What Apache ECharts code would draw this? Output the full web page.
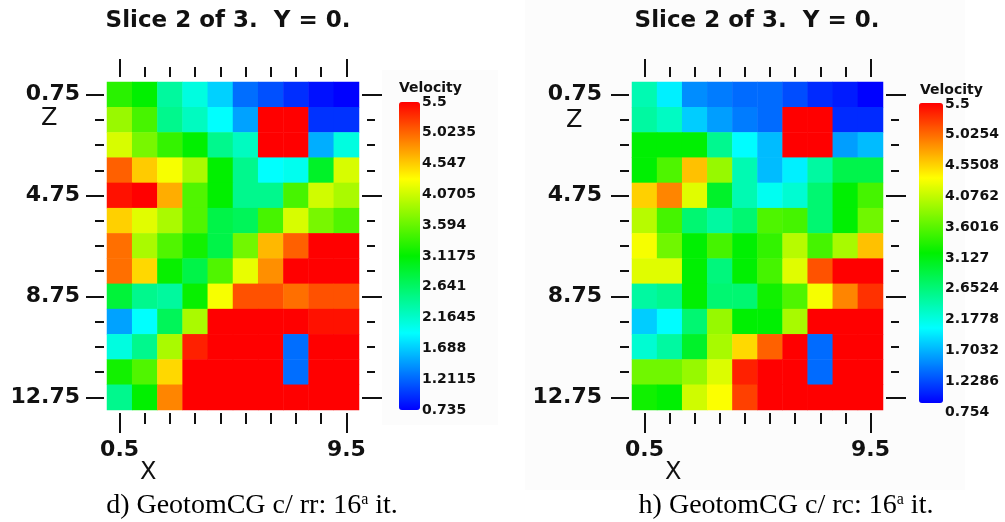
<!DOCTYPE html>
<html>
<head>
<meta charset="utf-8">
<style>
  html, body { margin: 0; padding: 0; background: #ffffff; }
  #chart { width: 1005px; height: 522px; }
</style>
<script src="https://cdn.jsdelivr.net/npm/echarts@6/dist/echarts.min.js"></script>
</head>
<body>
<div id="chart"></div>
<script>
// Grid coordinates of the velocity slice (cell centres)
const xCats = ['0.5', '1.5', '2.5', '3.5', '4.5', '5.5', '6.5', '7.5', '8.5', '9.5'];
const zCats = ['0.75', '1.75', '2.75', '3.75', '4.75', '5.75', '6.75',
               '7.75', '8.75', '9.75', '10.75', '11.75', '12.75'];

// Velocity model, inversion with rr: one row per Z level, top to bottom
const velRR = [
  [3.31, 3.12, 2.38, 2.07, 1.71, 1.25, 1.11, 0.95, 0.81, 0.74],
  [3.83, 3.45, 2.46, 2.22, 1.93, 1.49, 5.50, 5.50, 0.97, 0.97],
  [4.12, 3.68, 3.36, 3.12, 2.46, 2.22, 5.50, 5.50, 1.55, 2.07],
  [5.05, 4.55, 4.27, 3.91, 3.12, 2.46, 1.93, 2.00, 2.93, 4.12],
  [5.42, 5.50, 4.69, 3.49, 3.12, 2.46, 2.46, 3.45, 4.09, 3.91],
  [4.53, 4.17, 3.91, 3.49, 2.78, 2.70, 3.45, 4.12, 3.68, 3.49],
  [4.98, 3.91, 3.49, 3.20, 2.78, 3.65, 4.64, 5.05, 5.50, 5.50],
  [4.98, 4.49, 3.15, 2.78, 3.49, 4.20, 4.83, 5.50, 5.50, 5.50],
  [2.85, 2.46, 2.38, 3.15, 4.27, 5.12, 5.12, 4.98, 5.12, 5.12],
  [1.49, 1.93, 2.70, 3.91, 5.50, 5.50, 5.50, 5.50, 5.42, 5.42],
  [2.07, 2.46, 3.91, 5.35, 5.50, 5.50, 5.50, 1.25, 5.50, 5.50],
  [3.20, 3.49, 4.49, 5.50, 5.50, 5.50, 5.50, 1.25, 5.50, 5.50],
  [2.46, 3.12, 4.88, 5.50, 5.50, 5.50, 5.50, 5.50, 5.50, 5.50]
];

// Velocity model, inversion with rc
const velRC = [
  [2.30, 1.87, 1.41, 1.33, 1.25, 1.25, 1.11, 0.95, 0.88, 0.76],
  [2.38, 2.22, 1.71, 1.49, 1.33, 1.25, 5.50, 5.50, 0.95, 0.95],
  [3.12, 3.12, 3.12, 2.46, 1.93, 1.63, 5.50, 5.50, 1.49, 1.63],
  [3.12, 3.49, 4.60, 3.83, 2.30, 1.63, 1.87, 2.38, 2.78, 2.78],
  [4.53, 4.88, 4.17, 2.93, 2.30, 2.00, 2.15, 2.60, 3.12, 3.45],
  [3.98, 3.45, 2.60, 2.38, 2.60, 3.49, 3.45, 2.60, 3.12, 3.65],
  [4.27, 3.65, 3.12, 3.45, 3.12, 3.36, 3.98, 3.45, 3.91, 4.60],
  [4.17, 4.17, 3.12, 2.55, 3.12, 3.45, 4.17, 5.12, 5.50, 5.50],
  [2.38, 2.46, 3.12, 2.60, 2.60, 3.20, 3.49, 4.27, 4.88, 5.27],
  [1.71, 1.93, 2.60, 3.83, 3.12, 3.12, 3.91, 5.50, 5.50, 5.50],
  [2.15, 2.38, 2.93, 3.91, 4.49, 5.05, 5.50, 1.25, 5.50, 5.50],
  [3.65, 3.65, 3.83, 4.15, 5.35, 5.50, 5.50, 1.25, 5.50, 5.50],
  [3.20, 3.12, 4.09, 4.30, 5.20, 5.50, 5.50, 5.50, 5.50, 5.50]
];

// Colour-bar tick labels, bottom to top
const ticksRR = ['0.735', '1.2115', '1.688', '2.1645', '2.641', '3.1175',
                 '3.594', '4.0705', '4.547', '5.0235', '5.5'];
const ticksRC = ['0.754', '1.2286', '1.7032', '2.1778', '2.6524', '3.127',
                 '3.6016', '4.0762', '4.5508', '5.0254', '5.5'];

const titleText = 'Slice 2 of 3.  Y = 0.';
const captions = ['d) GeotomCG c/ rr: 16{s|a} it.', 'h) GeotomCG c/ rc: 16{s|a} it.'];

const jet = ['#0000ff', '#00ffff', '#00f000', '#ffff00', '#ff0000'];
const INK = '#111111';
const BOLD = 'DejaVu Sans';

function toCells(rows) {
  const out = [];
  rows.forEach((row, zi) => row.forEach((v, xi) => out.push([xi, zi, v])));
  return out;
}

const lastX = xCats.length - 1;
const isMajorX = (i) => i === 0 || i === lastX;
const isMajorZ = (i) => i % 4 === 0;

function xAxisDef(grid, pos, offset, len, major, showLabel) {
  return {
    type: 'category', gridIndex: grid, data: xCats, position: pos, offset: offset,
    axisLine: { show: false },
    splitLine: { show: false },
    axisTick: {
      show: true, alignWithLabel: true, length: len,
      interval: major ? (i) => isMajorX(i) : 0,
      lineStyle: { color: INK, width: 2 }
    },
    axisLabel: {
      show: showLabel, interval: (i) => isMajorX(i), margin: 26,
      fontFamily: BOLD, fontWeight: 'bold', fontSize: 22, color: INK
    }
  };
}

function yAxisDef(grid, pos, offset, len, major, showLabel, margin) {
  return {
    type: 'category', gridIndex: grid, data: zCats, inverse: true, position: pos, offset: offset,
    axisLine: { show: false },
    splitLine: { show: false },
    axisTick: {
      show: true, alignWithLabel: true, length: len,
      interval: major ? (i) => isMajorZ(i) : 0,
      lineStyle: { color: INK, width: 2 }
    },
    axisLabel: {
      show: showLabel, interval: (i) => isMajorZ(i), margin: margin || 24,
      fontFamily: BOLD, fontWeight: 'bold', fontSize: 22, color: INK
    }
  };
}

const panels = [
  { left: 107, width: 252, labelMargin: 24, bar: { left: 399, top: 102, w: 21, h: 308 }, ticksTop: 102, ticksH: 308 },
  { left: 632, width: 251, labelMargin: 27, bar: { left: 919, top: 103, w: 24, h: 300 }, ticksTop: 104, ticksH: 308 }
];
const heatTop = 82, heatH = 328;

const grids = [], xAxes = [], yAxes = [];
panels.forEach((p, k) => {
  grids.push({ left: p.left, top: heatTop, width: p.width, height: heatH, outerBoundsMode: 'none' });
  // bottom: short ticks, then long ticks with labels
  xAxes.push(xAxisDef(k, 'bottom', 3, 11, false, false));
  xAxes.push(xAxisDef(k, 'bottom', 3, 20, true, true));
  // top
  xAxes.push(xAxisDef(k, 'top', 5, 10, false, false));
  xAxes.push(xAxisDef(k, 'top', 5, 18, true, false));
  // left
  yAxes.push(yAxisDef(k, 'left', 3, 9, false, false));
  yAxes.push(yAxisDef(k, 'left', 3, 18, true, true, p.labelMargin));
  // right
  yAxes.push(yAxisDef(k, 'right', 8, 8, false, false));
  yAxes.push(yAxisDef(k, 'right', 3, 20, true, false));
});

// colour-bar label axes
[ticksRR, ticksRC].forEach((ticks, k) => {
  const p = panels[k];
  grids.push({ left: p.bar.left, top: p.ticksTop, width: p.bar.w, height: p.ticksH, outerBoundsMode: 'none' });
  xAxes.push({ type: 'category', gridIndex: 2 + k, show: false, data: [''] });
  yAxes.push({
    type: 'category', gridIndex: 2 + k, data: ticks, position: 'right', boundaryGap: false,
    axisLine: { show: false }, axisTick: { show: false }, splitLine: { show: false },
    axisLabel: { interval: 0, margin: 2, fontFamily: BOLD, fontWeight: 'bold', fontSize: 14, color: INK }
  });
});

const chart = echarts.init(document.getElementById('chart'), null, { renderer: 'canvas' });

chart.setOption({
  backgroundColor: '#ffffff',
  animation: false,
  title: [
    { text: titleText, left: 228, top: 10, textAlign: 'center', padding: 0,
      textStyle: { fontFamily: BOLD, fontWeight: 'bold', fontSize: 23, color: INK } },
    { text: titleText, left: 757, top: 10, textAlign: 'center', padding: 0,
      textStyle: { fontFamily: BOLD, fontWeight: 'bold', fontSize: 23, color: INK } },
    { text: captions[0], left: 252, top: 492, textAlign: 'center', padding: 0,
      textStyle: { fontFamily: 'Liberation Serif', fontWeight: 'normal', fontSize: 28, color: '#000',
        rich: { s: { fontFamily: 'Liberation Serif', fontSize: 16, verticalAlign: 'top', color: '#000' } } } },
    { text: captions[1], left: 786, top: 492, textAlign: 'center', padding: 0,
      textStyle: { fontFamily: 'Liberation Serif', fontWeight: 'normal', fontSize: 28, color: '#000',
        rich: { s: { fontFamily: 'Liberation Serif', fontSize: 16, verticalAlign: 'top', color: '#000' } } } }
  ],
  grid: grids,
  xAxis: xAxes,
  yAxis: yAxes,
  visualMap: [
    { type: 'continuous', seriesIndex: 0, min: 0.735, max: 5.5, inRange: { color: jet },
      left: panels[0].bar.left, top: panels[0].bar.top, itemWidth: panels[0].bar.w, itemHeight: panels[0].bar.h,
      padding: 0, calculable: false, hoverLink: false, text: null },
    { type: 'continuous', seriesIndex: 1, min: 0.754, max: 5.5, inRange: { color: jet },
      left: panels[1].bar.left, top: panels[1].bar.top, itemWidth: panels[1].bar.w, itemHeight: panels[1].bar.h,
      padding: 0, calculable: false, hoverLink: false, text: null }
  ],
  graphic: [
    { type: 'rect', z: -10, shape: { x: 382, y: 70, width: 116, height: 355 }, style: { fill: '#fcfcfc' } },
    { type: 'rect', z: -10, shape: { x: 525, y: 0, width: 440, height: 490 }, style: { fill: '#fcfcfc' } },
    { type: 'text', left: 399, top: 81, style: { text: 'Velocity', font: 'bold 14px "DejaVu Sans"', fill: INK } },
    { type: 'text', left: 920, top: 83, style: { text: 'Velocity', font: 'bold 14px "DejaVu Sans"', fill: INK } },
    { type: 'text', left: 41, top: 107, style: { text: 'Z', font: '24px "DejaVu Sans"', fill: INK } },
    { type: 'text', left: 566, top: 109, style: { text: 'Z', font: '24px "DejaVu Sans"', fill: INK } },
    { type: 'text', left: 140, top: 461, style: { text: 'X', font: '24px "DejaVu Sans"', fill: INK } },
    { type: 'text', left: 665, top: 461, style: { text: 'X', font: '24px "DejaVu Sans"', fill: INK } }
  ],
  series: [
    { type: 'heatmap', xAxisIndex: 1, yAxisIndex: 1, data: toCells(velRR),
      itemStyle: { borderWidth: 0 }, emphasis: { disabled: true }, progressive: 0 },
    { type: 'heatmap', xAxisIndex: 5, yAxisIndex: 5, data: toCells(velRC),
      itemStyle: { borderWidth: 0 }, emphasis: { disabled: true }, progressive: 0 }
  ]
});
</script>
</body>
</html>
